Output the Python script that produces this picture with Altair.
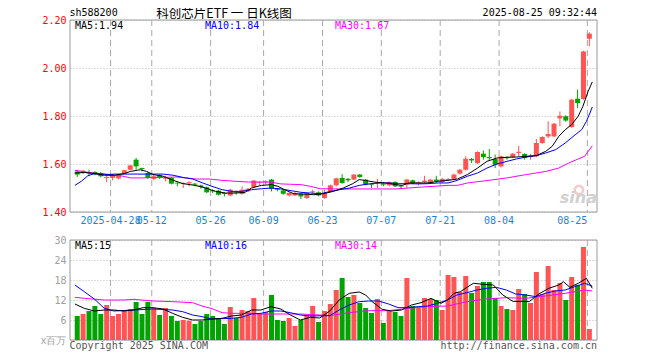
import altair as alt
import pandas as pd

# ---------------- data ----------------
opens = [1.569,1.562,1.566,1.567,1.5625,1.542,1.542,1.540,1.560,1.576,
         1.618,1.583,1.5625,1.538,1.553,1.539,1.542,1.522,1.517,1.519,
         1.518,1.511,1.503,1.490,1.489,1.479,1.469,1.485,1.475,1.486,
         1.504,1.521,1.525,1.535,1.497,1.490,1.469,1.469,1.476,1.458,
         1.482,1.482,1.458,1.486,1.511,1.542,1.538,1.535,1.556,1.535,
         1.518,1.518,1.518,1.511,1.525,1.510,1.514,1.532,1.520,1.525,
         1.521,1.535,1.525,1.533,1.538,1.560,1.576,1.621,1.604,1.643,
         1.629,1.621,1.590,1.628,1.629,1.646,1.642,1.629,1.632,1.6875,
         1.715,1.715,1.790,1.799,1.754,1.872,1.871,2.122]
highs = [1.576,1.575,1.576,1.570,1.567,1.551,1.555,1.558,1.576,1.597,
         1.625,1.585,1.567,1.556,1.556,1.551,1.545,1.523,1.524,1.528,
         1.521,1.514,1.506,1.493,1.492,1.482,1.496,1.489,1.507,1.500,
         1.533,1.528,1.532,1.538,1.500,1.493,1.482,1.484,1.478,1.482,
         1.493,1.486,1.493,1.514,1.542,1.558,1.542,1.558,1.558,1.538,
         1.521,1.538,1.521,1.528,1.528,1.511,1.538,1.535,1.528,1.551,
         1.538,1.551,1.542,1.542,1.560,1.580,1.632,1.625,1.653,1.656,
         1.662,1.639,1.635,1.632,1.646,1.676,1.645,1.643,1.704,1.716,
         1.778,1.771,1.819,1.803,1.871,1.910,2.072,2.149]
lows = [1.546,1.558,1.549,1.553,1.545,1.524,1.532,1.536,1.558,1.574,
        1.576,1.569,1.538,1.532,1.538,1.528,1.515,1.507,1.500,1.507,
        1.507,1.497,1.479,1.479,1.469,1.465,1.465,1.472,1.472,1.483,
        1.500,1.510,1.515,1.486,1.486,1.472,1.465,1.467,1.454,1.455,
        1.476,1.465,1.455,1.483,1.507,1.518,1.524,1.532,1.543,1.511,
        1.500,1.500,1.507,1.507,1.504,1.500,1.500,1.518,1.511,1.521,
        1.518,1.521,1.521,1.528,1.535,1.556,1.573,1.604,1.600,1.618,
        1.614,1.583,1.586,1.618,1.625,1.632,1.618,1.618,1.628,1.684,
        1.708,1.712,1.757,1.776,1.751,1.833,1.868,2.090]
closes = [1.556,1.572,1.560,1.556,1.549,1.546,1.553,1.556,1.574,1.594,
          1.590,1.579,1.542,1.549,1.542,1.543,1.518,1.519,1.521,1.524,
          1.514,1.504,1.482,1.486,1.472,1.475,1.493,1.481,1.493,1.497,
          1.531,1.524,1.528,1.497,1.493,1.476,1.479,1.479,1.465,1.479,
          1.486,1.469,1.479,1.511,1.540,1.521,1.532,1.556,1.546,1.514,
          1.514,1.524,1.514,1.525,1.507,1.506,1.535,1.521,1.524,1.531,
          1.535,1.529,1.538,1.537,1.556,1.576,1.622,1.615,1.650,1.629,
          1.624,1.597,1.632,1.624,1.643,1.651,1.625,1.635,1.6875,1.7125,
          1.725,1.768,1.801,1.781,1.868,1.854,2.069,2.143]
volumes = [7.2,7.8,8.7,10.2,7.8,10.5,7.2,7.8,9.0,9.3,
           11.4,7.8,11.4,9.6,7.5,9.6,7.2,5.7,6.0,5.8,
           4.8,5.7,7.8,7.2,6.3,4.8,9.9,6.6,9.0,8.7,
           12.6,7.8,8.4,13.5,6.0,5.7,6.6,4.2,6.0,7.5,
           10.2,5.4,8.7,10.8,15.0,18.6,12.9,13.5,11.1,9.6,
           8.1,12.3,5.1,8.7,8.4,7.2,18.6,10.2,9.6,12.6,
           12.3,12.0,9.0,19.5,18.9,14.4,19.2,14.1,16.2,17.4,
           17.4,12.6,10.2,9.3,9.0,15.3,13.8,11.1,20.4,13.8,
           22.2,15.0,17.1,12.0,18.9,16.5,27.9,3.3]

tick_days = [6, 13, 23, 32, 42, 52, 62, 72, 87]
tick_labels = ["2025-04-28", "05-12", "05-26", "06-09", "06-23",
               "07-07", "07-21", "08-04", "08-25"]

# moving-average lines: (day position, value)
ma5_x = [-0.4,1.3,3,4.6,6.3,8,9,10.7,11.8,12.9,14.6,16.3,18,20,21.8,23.5,25.2,26.8,28.5,29.6,
         31.3,33,34.1,35.2,36.8,38.5,40.2,41.8,43.5,45.2,46.8,47.9,49,50.7,52.4,54.1,55.2,56.3,58,59.6,
         61.3,63,64.6,66.3,68,69.6,71.3,73,74.6,76.3,78,79.6,80.7,81.8,82.9,84,85.1,85.9,86.8,87.5]
ma5_v = [1.5625,1.565,1.560,1.553,1.553,1.560,1.569,1.576,1.569,1.556,1.549,1.532,1.518,1.511,1.500,1.486,1.479,1.479,1.482,1.500,
         1.511,1.514,1.507,1.493,1.476,1.475,1.472,1.476,1.486,1.500,1.518,1.535,1.531,1.524,1.521,1.514,1.511,1.521,1.521,1.521,
         1.528,1.532,1.5375,1.556,1.583,1.611,1.625,1.628,1.629,1.632,1.635,1.653,1.674,1.715,1.743,1.764,1.799,1.840,1.903,1.942]
ma10_x = [-0.4,0.7,1.8,2.9,5.2,6.3,9.1,12.4,14.6,16.3,18,19.6,21.3,22.9,24.6,26.3,27.9,29.6,31.3,33,
          34.6,36.3,38,39.6,41.3,43,44.6,46.3,47.9,49.6,51.3,53,54.6,56.3,58,59.6,61.3,63,64.6,66.3,
          68,69.6,71.3,73,74.6,76.3,78,79.6,81.3,82.9,84.6,85.7,86.5,87.1,87.5]
ma10_v = [1.511,1.528,1.551,1.560,1.556,1.558,1.558,1.558,1.558,1.553,1.544,1.5375,1.521,1.507,1.493,1.486,1.486,1.493,1.497,1.500,
          1.496,1.489,1.482,1.479,1.476,1.486,1.493,1.500,1.511,1.517,1.521,1.521,1.518,1.518,1.517,1.518,1.521,1.521,1.532,1.549,
          1.5625,1.583,1.600,1.611,1.621,1.629,1.635,1.646,1.660,1.6875,1.722,1.743,1.778,1.8125,1.8375]
ma30_x = [-0.4,1.3,3.5,5.7,7.4,9.1,11.3,12.9,14.6,16.8,20.2,22.4,24.6,26.8,29.1,31.3,33,34.6,38,39.6,
          41.3,44.6,51.8,54,56.3,58.5,60.6,63,64.6,66.3,69.6,73,76.3,79.6,81.8,83.5,85.1,86.2,87.5]
ma30_v = [1.574,1.567,1.560,1.556,1.551,1.542,1.542,1.544,1.544,1.546,1.5375,1.5375,1.532,1.528,1.525,1.525,1.524,1.517,1.514,1.507,
          1.497,1.496,1.496,1.496,1.500,1.504,1.507,1.511,1.511,1.521,1.531,1.542,1.556,1.569,1.583,1.604,1.621,1.632,1.676]

vma5_x = [-0.4,1.2,2.9,4.6,6.2,7.9,9.6,11.2,12.9,14.6,16.2,17.9,19.6,21.2,22.9,24.6,26.2,27.9,29.6,31.2,
          32.9,34.6,36.2,37.9,39.6,41.2,42.9,44.5,46.2,47.9,49,50.1,51.8,53.4,55.1,56.8,58.4,60.1,61.8,62.9,
          64,65.1,66.2,67.3,69,70.7,72.3,74,75.7,76.8,78.4,80.1,81.8,82.6,83.7,85.1,86.5,87.5]
vma5_v = [10.8,9.5,8.7,9.0,9.0,8.7,9.0,9.7,9.7,9.3,8.0,6.8,6.0,6.0,6.3,6.5,7.2,7.5,9.0,9.0,
          10.0,9.3,7.5,6.0,6.8,6.6,8.7,12.0,14.0,14.4,13.5,11.5,9.2,8.7,9.0,10.5,11.2,12.5,11.0,12.0,
          14.0,14.5,15.8,17.0,16.7,16.5,13.5,11.6,11.6,11.5,13.8,15.5,16.5,17.5,15.8,17.0,18.5,15.5]
vma10_x = [-0.4,1.2,2.9,4.6,6.2,9.6,12.9,16.2,17.9,19.6,21.2,22.9,26.2,27.9,29.6,31.2,32.9,34.6,36.2,37.9,
           39.6,42.9,44.5,46.2,47.9,49.5,51.2,52.9,54.5,56.2,57.9,59.5,61.2,62.9,64.5,66.2,67.9,69.5,71.2,72.9,
           74.5,76.2,77.9,79.5,81.2,82.9,84.5,86.2,87.5]
vma10_v = [16.5,14.5,12.3,9.5,8.7,9.0,9.3,9.0,8.5,7.5,7.0,6.3,6.5,6.8,7.8,8.0,8.7,8.7,8.2,7.5,
           7.2,7.3,9.0,10.5,11.5,11.7,11.7,10.8,9.7,9.7,10.0,10.2,11.0,12.0,13.5,14.2,15.0,15.5,15.8,15.0,
           13.8,13.5,13.0,14.0,14.7,15.0,16.0,17.0,16.2]
vma30_x = [-0.4,1.2,4.6,7.9,9.6,12.9,16.2,19.6,21.2,22.9,24.6,26.2,27.9,31.2,34.6,37.9,41.2,42.9,46.2,49.5,
           52.9,56.2,59.5,62.9,66.2,69.5,72.9,76.2,79.5,82.9,86.2,87.5]
vma30_v = [12.8,12.5,12.0,12.0,12.2,11.7,11.5,11.2,10.2,9.4,8.2,8.0,8.0,7.8,7.8,7.8,7.5,7.3,8.2,8.8,
           8.8,9.5,10.0,10.2,11.5,12.3,12.7,12.5,13.2,14.0,15.0,14.7]

ma_names = ["MA5", "MA10", "MA30"]
price_ma_last = ["1.94", "1.84", "1.67"]
vol_ma_last = ["15", "16", "14"]
header = ["sh588200", "科创芯片ETF 一 日K线图", "2025-08-25 09:32:44"]
footer = ["Copyright 2025 SINA.COM", "http://finance.sina.com.cn"]

# ---------------- styling ----------------
W, H = 527, 320
PH = 192           # price panel height
VT = 220           # volume panel top
RED = "#ff5454"
GREEN = "#00a400"
MA_COLORS = ["#000000", "#0000ff", "#ff00ff"]
MONO = "DejaVu Sans Mono"
GRID = "#b8b8b8"
FRAME = "#9a9a9a"
BLUE_TXT = "#1a84d8"

n = len(closes)
candles = pd.DataFrame({"day": list(range(n)), "open": opens, "high": highs,
                        "low": lows, "close": closes, "volume": volumes})
candles["dir"] = ["up" if c >= o else "down" for o, c in zip(opens, closes)]

x_enc = alt.X("day:Q", scale=alt.Scale(domain=[-0.38, 87.45], nice=False, zero=False), axis=None)
price_scale = alt.Scale(domain=[1.4, 2.2], range=[PH, 0], nice=False, zero=False)
vol_scale = alt.Scale(domain=[0, 30], range=[H, VT], nice=False)
dir_color = alt.Color("dir:N", scale=alt.Scale(domain=["up", "down"], range=[RED, GREEN]), legend=None)

one = pd.DataFrame({"k": [0]})
base = alt.Chart(candles)

# frames
frame_p = alt.Chart(one).mark_rect(fillOpacity=0, stroke=FRAME, strokeWidth=1).encode(
    x=alt.value(0), x2=alt.value(W), y=alt.value(0), y2=alt.value(PH))
frame_v = alt.Chart(one).mark_rect(fillOpacity=0, stroke=FRAME, strokeWidth=1).encode(
    x=alt.value(0), x2=alt.value(W), y=alt.value(VT), y2=alt.value(H))

ticks = pd.DataFrame({"day": tick_days, "label": tick_labels})
vline_p = alt.Chart(ticks).mark_rule(color="#a8a8a8", strokeDash=[6, 4], xOffset=-2).encode(
    x=x_enc, y=alt.value(0), y2=alt.value(PH))
vline_v = alt.Chart(ticks).mark_rule(color="#a8a8a8", strokeDash=[6, 4], xOffset=-2).encode(
    x=x_enc, y=alt.value(VT), y2=alt.value(H))
date_mid = alt.Chart(ticks).transform_filter(alt.datum.day < tick_days[-1]).mark_text(
    font=MONO, fontSize=10, color=BLUE_TXT, align="center", baseline="middle", dx=-2).encode(
    x=x_enc, y=alt.value(PH + 9), text="label:N")
date_last = alt.Chart(ticks).transform_filter(alt.datum.day == tick_days[-1]).mark_text(
    font=MONO, fontSize=10, color=BLUE_TXT, align="right", baseline="middle", dx=-2).encode(
    x=x_enc, y=alt.value(PH + 9), text="label:N")

wicks = base.mark_rule(strokeWidth=1).encode(
    x=x_enc,
    y=alt.Y("low:Q", scale=price_scale,
            axis=alt.Axis(orient="left", values=[1.4, 1.6, 1.8, 2.0, 2.2], format=".2f",
                          labelColor="#ff0000", labelFont=MONO, labelFontSize=10, labelPadding=4,
                          grid=True, gridColor=GRID, gridDash=[1, 2], domain=False, ticks=False,
                          title=None)),
    y2="high:Q",
    color=dir_color,
)
bodies = base.mark_bar(size=5).encode(
    x=x_enc,
    y=alt.Y("open:Q", scale=price_scale, axis=None),
    y2="close:Q",
    color=dir_color,
)
vbars = base.mark_bar(size=5).encode(
    x=x_enc,
    y=alt.Y("volume:Q", scale=vol_scale,
            axis=alt.Axis(orient="left", values=[0, 6, 12, 18, 24, 30],
                          labelExpr="datum.value == 0 ? 'x百万' : datum.label",
                          labelColor="#a0a0a0", labelFont=MONO, labelFontSize=10, labelPadding=4,
                          grid=True, gridColor=GRID, gridDash=[1, 2], domain=False, ticks=False,
                          title=None)),
    color=dir_color,
)

def line_layer(xs, vs, color, scale):
    df = pd.DataFrame({"day": xs, "value": vs})
    return alt.Chart(df).mark_line(color=color, strokeWidth=1, clip=True).encode(
        x=x_enc, y=alt.Y("value:Q", scale=scale, axis=None))

ma_layers = [
    line_layer(ma30_x, ma30_v, MA_COLORS[2], price_scale),
    line_layer(ma10_x, ma10_v, MA_COLORS[1], price_scale),
    line_layer(ma5_x, ma5_v, MA_COLORS[0], price_scale),
    line_layer(vma30_x, vma30_v, MA_COLORS[2], vol_scale),
    line_layer(vma10_x, vma10_v, MA_COLORS[1], vol_scale),
    line_layer(vma5_x, vma5_v, MA_COLORS[0], vol_scale),
]

# texts
label_x = [5, 135, 265]
text_layers = []
for i, name in enumerate(ma_names):
    for txt, yv in ((f"{name}:{price_ma_last[i]}", 6), (f"{name}:{vol_ma_last[i]}", VT + 6)):
        text_layers.append(
            alt.Chart(one).mark_text(font=MONO, fontSize=10, color=MA_COLORS[i], align="left",
                                     baseline="middle").encode(
                x=alt.value(label_x[i]), y=alt.value(yv), text=alt.value(txt)))

text_layers.append(alt.Chart(one).mark_text(font=MONO, fontSize=10, color="#000", align="left",
                                            baseline="middle").encode(
    x=alt.value(-0.5), y=alt.value(-7), text=alt.value(header[0])))
text_layers.append(alt.Chart(one).mark_text(font="Noto Sans CJK SC", fontSize=12.5, color="#000",
                                            align="center", baseline="middle").encode(
    x=alt.value(154), y=alt.value(-6.5), text=alt.value(header[1])))
text_layers.append(alt.Chart(one).mark_text(font=MONO, fontSize=10, color="#000", align="right",
                                            baseline="middle").encode(
    x=alt.value(W), y=alt.value(-7), text=alt.value(header[2])))
text_layers.append(alt.Chart(one).mark_text(font=MONO, fontSize=10, color="#555", align="left",
                                            baseline="middle").encode(
    x=alt.value(-0.5), y=alt.value(H + 5.5), text=alt.value(footer[0])))
text_layers.append(alt.Chart(one).mark_text(font=MONO, fontSize=10, color="#555", align="right",
                                            baseline="middle").encode(
    x=alt.value(W), y=alt.value(H + 5.5), text=alt.value(footer[1])))
# sina watermark
text_layers.append(alt.Chart(one).mark_point(shape="circle", size=70, filled=False,
                                             stroke="#f5b5b5", strokeWidth=2.5).encode(
    x=alt.value(509), y=alt.value(170)))
text_layers.append(alt.Chart(one).mark_text(font="DejaVu Sans", fontSize=16, fontStyle="italic",
                                            fontWeight="bold", color="#d0d0d0", align="right",
                                            baseline="middle").encode(
    x=alt.value(527), y=alt.value(178), text=alt.value("sina")))

layers = [frame_p, frame_v, vline_p, vline_v, wicks, bodies, vbars] + ma_layers + \
         [date_mid, date_last] + text_layers

chart = alt.layer(*layers).resolve_scale(y="independent").properties(
    width=W, height=H,
    autosize=alt.AutoSizeParams(type="none"),
    padding={"left": 62, "top": 12, "right": 10, "bottom": 12},
).configure_view(stroke=None)

chart.save("out.html", embed_options={"renderer": "svg", "actions": False})
